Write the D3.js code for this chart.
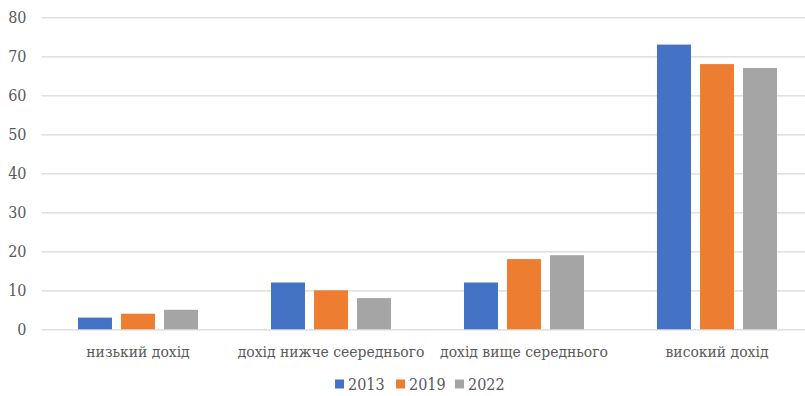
<!DOCTYPE html>
<html>
<head>
<meta charset="utf-8">
<script src="https://cdn.jsdelivr.net/npm/d3@7"></script>
<style>
  html, body { margin: 0; padding: 0; background: #fff; }
  svg { display: block; }
  svg text { font-stretch: condensed; }
</style>
</head>
<body>
<svg id="chart" width="805" height="396"></svg>
<script>
// Income groups and shares by year
const categories = ["низький дохід", "дохід нижче сеереднього", "дохід вище середнього", "високий дохід"];
const years = ["2013", "2019", "2022"];
const values2013 = [3, 12, 12, 73];
const values2019 = [4, 10, 18, 68];
const values2022 = [5, 8, 19, 67];
const yTicks = [0, 10, 20, 30, 40, 50, 60, 70, 80];
const colors = ["#4472C4", "#ED7D31", "#A5A5A5"];

const seriesValues = [values2013, values2019, values2022];
const rows = categories.map((c, i) => ({
  category: c,
  bars: years.map((yr, j) => ({ year: yr, value: seriesValues[j][i] }))
}));

const FONT = "'DejaVu Serif Condensed', 'DejaVu Serif', serif";
const FSIZE = 16;
const svg = d3.select("#chart")
  .attr("font-family", FONT)
  .attr("font-size", FSIZE);
const W = 805;
const plotLeft = 41.5, plotTop = 17.3, plotBottom = 329.3;

const y = d3.scaleLinear().domain([0, 80]).range([plotBottom, plotTop]);
const x0 = d3.scaleBand().domain(categories).range([plotLeft, plotLeft + 193 * 4]).padding(0);
const x1 = d3.scaleBand().domain(years).range([-60, 60]).paddingInner(0.21).paddingOuter(0);
const color = d3.scaleOrdinal().domain(years).range(colors);

// Horizontal gridlines and value labels
const yAxis = d3.axisLeft(y).tickValues(yTicks).tickSize(-(W - plotLeft)).tickPadding(15);
const gy = svg.append("g").attr("transform", `translate(${plotLeft},0)`).call(yAxis);
gy.attr("font-family", FONT).attr("font-size", FSIZE);
gy.select(".domain").remove();
gy.selectAll(".tick line").attr("stroke", "#d9d9d9").attr("stroke-width", 1.3);
gy.selectAll(".tick text").attr("fill", "#595959");

// Grouped bars
const groups = svg.append("g").selectAll("g")
  .data(rows).join("g")
  .attr("transform", d => `translate(${x0(d.category) + x0.bandwidth() / 2},0)`);

groups.selectAll("rect")
  .data(d => d.bars).join("rect")
  .attr("x", d => x1(d.year))
  .attr("width", x1.bandwidth())
  .attr("y", d => y(d.value))
  .attr("height", d => y(0) - y(d.value))
  .attr("fill", d => color(d.year));

// Category labels
const xAxis = d3.axisBottom(x0).tickSize(0).tickPadding(17);
const gx = svg.append("g").attr("transform", `translate(0,${plotBottom})`).call(xAxis);
gx.attr("font-family", FONT).attr("font-size", 15.5);
gx.select(".domain").remove();
gx.selectAll(".tick text").attr("fill", "#595959");

// Legend
const legendX = [335, 396, 455];
const legend = svg.append("g").selectAll("g")
  .data(years).join("g")
  .attr("transform", (d, i) => `translate(${legendX[i]},384)`);
legend.append("rect")
  .attr("x", 0).attr("y", -4.5).attr("width", 9).attr("height", 9)
  .attr("fill", d => color(d));
legend.append("text")
  .attr("x", 13).attr("y", 0).attr("dy", "0.35em")
  .attr("fill", "#595959")
  .text(d => d);
</script>
</body>
</html>
